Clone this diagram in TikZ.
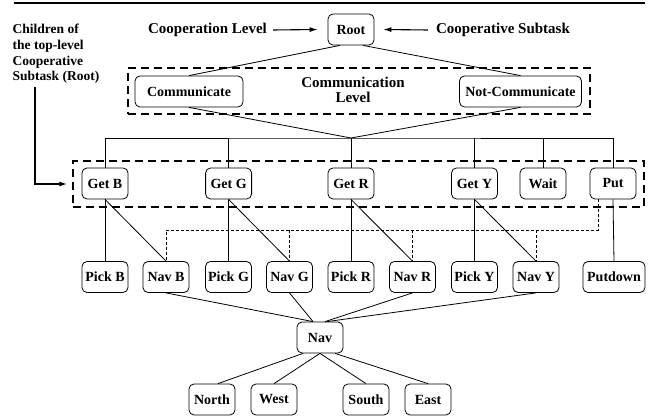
\documentclass[tikz,border=0pt]{standalone}
\usepackage{fontspec}
\setmainfont{Liberation Serif}[BoldFont={Liberation Serif Bold}]
\usetikzlibrary{arrows.meta}
\begin{document}
\begin{tikzpicture}[x=1pt,y=-1pt,
	task/.style={draw,rounded corners=5pt,line width=0.8pt,minimum width=46pt,minimum height=31pt,inner sep=2pt,font=\fontsize{14}{16}\selectfont\bfseries},
	lbl/.style={inner sep=0pt,font=\fontsize{15}{15.6}\selectfont\bfseries},
	layer/.style={draw,line width=1.4pt,dash pattern=on 8pt off 5pt,minimum width=#1,minimum height=46pt,inner sep=0pt},
	link/.style={line width=0.8pt},
	dotlink/.style={line width=0.7pt,dash pattern=on 3pt off 2pt},
	pointer/.style={line width=1.1pt,-{Latex[length=8pt,width=5pt]}}]
		\useasboundingbox (0,0) rectangle (657,417);
		
		% Rule at the top
		\draw[line width=2.5pt] (14,3) -- (645,3);
		
		% Cooperation level
		\node[task] (root) at (351,29.5) {Root};
		\node[lbl] (coopl) at (207.5,30) {Cooperation Level};
		\node[lbl] (coops) at (503,30) {Cooperative Subtask};
		\draw[pointer] ([xshift=6pt]coopl.east) -- ([xshift=-10pt]root.west);
		\draw[pointer] ([xshift=-8pt]coops.west) -- ([xshift=9pt]root.east);
		
		% Label on the left
		\node[lbl,font=\fontsize{13.5}{15.7}\selectfont\bfseries,align=left,anchor=west] (kids) at (12.5,54) {Children of\\the top-level\\Cooperative\\Subtask (Root)};
		\coordinate (bend) at (35,87);
		
		% Communication level
		\node[layer=462pt] (commlevel) at (359,91) {};
		\node[lbl,align=center] (commtxt) at (353,90) {Communication\\Level};
		\node[task,minimum width=108pt] (comm) at (189,91.5) {Communicate};
		\node[task,minimum width=122pt] (notcomm) at (520.5,91.5) {Not-Communicate};
		
		% Children of Root
		\node[layer=571pt] (getlevel) at (358.5,184) {};
		\foreach \n/\x/\t in {getB/105/Get B, getG/228.6/Get G, getR/351/Get R, getY/474.5/Get Y, wait/543/Wait, put/613/Put}
			\node[task] (\n) at (\x,183.5) {\t};
		\draw[pointer,line width=1.4pt] (bend) |- ([xshift=-5pt]getlevel.west);
		
		% Pick and Nav subtasks
		\foreach \n/\x/\t in {pickB/105/Pick B, navB/166/Nav B, pickG/228.5/Pick G, navG/289.5/Nav G, pickR/351/Pick R, navR/412.5/Nav R, pickY/474.5/Pick Y, navY/536/Nav Y}
			\node[task] (\n) at (\x,277) {\t};
		\node[task,minimum width=62pt] (putdown) at (614,277) {Putdown};
		
		% Nav and primitive moves
		\node[task] (nav) at (320,337.5) {Nav};
		\foreach \n/\x/\t in {mvN/212/North, mvW/274/West, mvS/366/South, mvE/428/East}
			\node[task] (\n) at (\x,399.5) {\t};
		
		% Root to communication level
		\coordinate (hub) at (351,138);
		\draw[link] ([xshift=-11pt]root.south) -- (comm.north);
		\draw[link] ([xshift=12pt]root.south) -- (notcomm.north);
		\draw[link] (comm.south) -- (hub) -- (notcomm.south);
		\draw[link] (getB.north) |- (hub) -| (put.north);
		\foreach \n in {getG,getR,getY,wait}
			\draw[link] (\n.north) -- (\n.north |- hub);
		
		% Get subtasks to Pick and Nav
		\foreach \c in {B,G,R,Y} {
			\draw[link] (get\c.south) -- (pick\c.north);
			\draw[link] (get\c.south) -- (nav\c.north);
		}
		\draw[link] (put.south) -- (putdown.north);
		
		% Put shares the Nav subtasks
		\coordinate (dots) at (0,230);
		\draw[dotlink] ([xshift=-15pt]put.south) |- (navB.north |- dots) -- (navB.north);
		\foreach \c in {G,R,Y}
			\draw[dotlink] (nav\c.north |- dots) -- (nav\c.north);
		
		% Nav subtasks to Nav, Nav to moves
		\draw[link] (navB.south) -- ([xshift=-7pt]nav.north);
		\draw[link] (navG.south) -- ([xshift=-7pt]nav.north);
		\draw[link] (navR.south) -- ([xshift=5pt]nav.north);
		\draw[link] (navY.south) -- ([xshift=7pt]nav.north);
		\draw[link] ([xshift=-17pt]nav.south) -- ([xshift=6pt]mvN.north);
		\draw[link] (nav.south) -- (mvW.north);
		\draw[link] (nav.south) -- (mvS.north);
		\draw[link] ([xshift=15pt]nav.south) -- (mvE.north);
	\end{tikzpicture}
\end{document}
